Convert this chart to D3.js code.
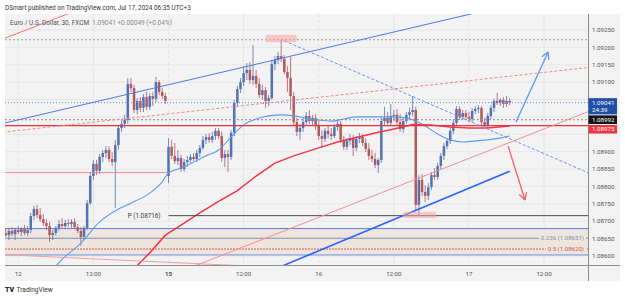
<!DOCTYPE html>
<html>
<head>
<meta charset="utf-8">
<script src="https://cdn.jsdelivr.net/npm/d3@7"></script>
<style>
  body { margin: 0; background: #fff; }
  svg { display: block; font-family: Roboto, Arial, sans-serif; }
</style>
</head>
<body>
<svg id="chart" width="625" height="298"></svg>
<script>
// EUR/USD 30m bars, Jul 11 22:00 -> Jul 17 06:30 (weekend skipped), [open, high, low, close]
const candles = [
  [1.08666,1.08678,1.08655,1.08660],[1.08660,1.08681,1.08646,1.08672],[1.08672,1.08683,1.08658,1.08663],[1.08663,1.08681,1.08646,1.08675],
  [1.08675,1.08686,1.08663,1.08669],[1.08669,1.08683,1.08658,1.08678],[1.08678,1.08689,1.08660,1.08666],[1.08666,1.08686,1.08658,1.08675],
  [1.08675,1.08724,1.08666,1.08715],[1.08715,1.08744,1.08704,1.08735],[1.08735,1.08747,1.08709,1.08718],[1.08718,1.08738,1.08698,1.08706],
  [1.08706,1.08721,1.08686,1.08695],[1.08695,1.08706,1.08675,1.08686],[1.08686,1.08698,1.08640,1.08660],[1.08660,1.08675,1.08646,1.08666],
  [1.08666,1.08686,1.08658,1.08681],[1.08681,1.08704,1.08672,1.08692],[1.08692,1.08709,1.08681,1.08686],[1.08686,1.08704,1.08678,1.08695],
  [1.08695,1.08706,1.08683,1.08692],[1.08692,1.08706,1.08681,1.08698],[1.08698,1.08709,1.08678,1.08683],[1.08683,1.08692,1.08666,1.08672],
  [1.08672,1.08683,1.08629,1.08655],[1.08655,1.08686,1.08646,1.08681],[1.08681,1.08761,1.08675,1.08752],[1.08752,1.08842,1.08747,1.08830],
  [1.08830,1.08876,1.08819,1.08865],[1.08865,1.08876,1.08833,1.08845],[1.08845,1.08893,1.08836,1.08885],[1.08885,1.08905,1.08870,1.08896],
  [1.08896,1.08916,1.08882,1.08905],[1.08905,1.08916,1.08870,1.08879],[1.08879,1.08899,1.08859,1.08870],[1.08870,1.08934,1.08738,1.08919],
  [1.08919,1.08977,1.08905,1.08968],[1.08968,1.08991,1.08957,1.08980],[1.08980,1.09006,1.08968,1.08991],[1.08991,1.09112,1.08980,1.09095],
  [1.09095,1.09112,1.09072,1.09083],[1.09083,1.09092,1.09011,1.09020],[1.09020,1.09054,1.09008,1.09046],[1.09046,1.09057,1.09014,1.09026],
  [1.09026,1.09066,1.09014,1.09057],[1.09057,1.09072,1.09020,1.09029],[1.09029,1.09069,1.09020,1.09060],[1.09060,1.09072,1.09031,1.09052],
  [1.09052,1.09115,1.09043,1.09100],[1.09100,1.09106,1.09063,1.09072],[1.09072,1.09083,1.09052,1.09060],[1.09060,1.09069,1.09037,1.09046],
  [1.08830,1.08939,1.08810,1.08914],[1.08914,1.08934,1.08879,1.08888],[1.08888,1.08925,1.08865,1.08873],[1.08873,1.08905,1.08862,1.08882],
  [1.08882,1.08891,1.08842,1.08850],[1.08850,1.08879,1.08842,1.08870],[1.08870,1.08888,1.08856,1.08876],[1.08876,1.08893,1.08868,1.08885],
  [1.08885,1.08896,1.08873,1.08879],[1.08879,1.08905,1.08870,1.08896],[1.08896,1.08919,1.08885,1.08911],[1.08911,1.08945,1.08905,1.08934],
  [1.08934,1.08951,1.08922,1.08942],[1.08942,1.08954,1.08925,1.08934],[1.08934,1.08957,1.08925,1.08945],[1.08945,1.08968,1.08934,1.08960],
  [1.08960,1.08968,1.08937,1.08945],[1.08945,1.08957,1.08870,1.08882],[1.08882,1.08905,1.08856,1.08893],[1.08893,1.08905,1.08842,1.08885],
  [1.08885,1.08962,1.08876,1.08954],[1.08954,1.09049,1.08945,1.09040],[1.09040,1.09089,1.09031,1.09080],[1.09080,1.09112,1.09069,1.09100],
  [1.09100,1.09146,1.09089,1.09126],[1.09126,1.09155,1.09106,1.09135],[1.09135,1.09158,1.09095,1.09106],[1.09106,1.09207,1.09092,1.09118],
  [1.09118,1.09135,1.09083,1.09095],[1.09095,1.09112,1.09054,1.09063],[1.09063,1.09092,1.09049,1.09077],[1.09077,1.09086,1.09026,1.09046],
  [1.09046,1.09063,1.09031,1.09054],[1.09054,1.09164,1.09049,1.09152],[1.09152,1.09175,1.09135,1.09164],[1.09164,1.09187,1.09152,1.09175],
  [1.09175,1.09224,1.09158,1.09167],[1.09167,1.09178,1.09123,1.09129],[1.09129,1.09146,1.09072,1.09112],[1.09112,1.09172,1.09020,1.09060],
  [1.09060,1.09072,1.08977,1.08985],[1.08985,1.08997,1.08945,1.08957],[1.08957,1.08980,1.08934,1.08968],[1.08968,1.08997,1.08957,1.08985],
  [1.08985,1.09014,1.08974,1.09003],[1.09003,1.09020,1.08980,1.08988],[1.08988,1.09006,1.08977,1.08997],[1.08997,1.09008,1.08962,1.08974],
  [1.08974,1.08991,1.08934,1.08945],[1.08945,1.08962,1.08911,1.08937],[1.08937,1.08968,1.08928,1.08960],[1.08960,1.08974,1.08939,1.08951],
  [1.08951,1.08968,1.08934,1.08945],[1.08945,1.08980,1.08939,1.08971],[1.08971,1.08991,1.08960,1.08980],[1.08980,1.08988,1.08925,1.08934],
  [1.08934,1.08945,1.08905,1.08914],[1.08914,1.08939,1.08905,1.08931],[1.08931,1.08951,1.08919,1.08939],[1.08939,1.08948,1.08888,1.08911],
  [1.08911,1.08945,1.08902,1.08937],[1.08937,1.08954,1.08925,1.08942],[1.08942,1.08951,1.08916,1.08925],[1.08925,1.08939,1.08899,1.08908],
  [1.08908,1.08925,1.08876,1.08888],[1.08888,1.08905,1.08870,1.08879],[1.08879,1.08896,1.08853,1.08862],[1.08862,1.08882,1.08839,1.08876],
  [1.08876,1.09000,1.08868,1.08988],[1.08988,1.09029,1.08977,1.08997],[1.08997,1.09014,1.08974,1.08983],[1.08983,1.09037,1.08974,1.09003],
  [1.09003,1.09020,1.08988,1.09006],[1.09006,1.09023,1.08977,1.08985],[1.08985,1.09008,1.08957,1.08965],[1.08965,1.08997,1.08954,1.08988],
  [1.08988,1.09014,1.08980,1.09006],[1.09006,1.09026,1.08991,1.09014],[1.09014,1.09060,1.09003,1.09020],[1.09020,1.09029,1.08732,1.08747],
  [1.08747,1.08833,1.08716,1.08819],[1.08819,1.08836,1.08773,1.08784],[1.08784,1.08804,1.08755,1.08773],[1.08773,1.08810,1.08761,1.08798],
  [1.08798,1.08842,1.08790,1.08833],[1.08833,1.08853,1.08819,1.08827],[1.08827,1.08868,1.08819,1.08859],[1.08859,1.08896,1.08850,1.08888],
  [1.08888,1.08925,1.08876,1.08916],[1.08916,1.08939,1.08908,1.08931],[1.08931,1.08968,1.08922,1.08960],[1.08960,1.08991,1.08951,1.08983],
  [1.08983,1.09031,1.08974,1.09023],[1.09023,1.09031,1.08991,1.09000],[1.09000,1.09020,1.08991,1.09011],[1.09011,1.09020,1.08991,1.09000],
  [1.09000,1.09014,1.08985,1.08994],[1.08994,1.09026,1.08985,1.09017],[1.09017,1.09031,1.09008,1.09023],[1.09023,1.09034,1.09011,1.09026],
  [1.09026,1.09031,1.08977,1.08985],[1.08985,1.08997,1.08971,1.08977],[1.08977,1.09011,1.08968,1.09003],[1.09003,1.09034,1.08994,1.09026],
  [1.09026,1.09052,1.09014,1.09046],[1.09046,1.09069,1.09034,1.09040],[1.09040,1.09054,1.09031,1.09049],[1.09049,1.09057,1.09026,1.09037],
  [1.09037,1.09060,1.09029,1.09046],[1.09046,1.09054,1.09034,1.09041]
]

// indicator lines, sampled along the bars
const blueMaBars = [14,18,24,30,36,40,46,50,52,56,60,64,68,72,76,80,84,88,92,96,100,104,108,112,116,120,124,128,131,134,138,142,146,150,154,158,161]
const blueMaValues = [1.08550,1.08590,1.08637,1.08698,1.08735,1.08752,1.08781,1.08813,1.08839,1.08853,1.08870,1.08888,1.08905,1.08942,1.08977,1.08994,1.09003,1.09006,1.09003,1.08997,1.08991,1.08988,1.08994,1.09000,1.09000,1.09000,1.09000,1.08997,1.08988,1.08974,1.08951,1.08934,1.08928,1.08931,1.08934,1.08939,1.08945]
const redMaBars = [40,46,51,56,62,68,74,80,86,92,100,106,112,118,124,130,136,142,148,154,161]
const redMaValues = [1.08554,1.08609,1.08660,1.08689,1.08724,1.08757,1.08788,1.08830,1.08867,1.08888,1.08911,1.08928,1.08941,1.08954,1.08965,1.08978,1.08977,1.08971,1.08968,1.08968,1.08974]

// axes
const priceTicks = d3.range(0, 14).map(k => 1.086 + k * 0.0005)
const timeTickBars = [4, 28, 52, 76, 100, 124, 148, 172]
const timeTickLabels = ["12", "12:00", "15", "12:00", "16", "12:00", "17", "12:00"]

// drawings: [bar, price] anchors
const channelUpper = [[-1, 1.08981], [150, 1.09299]]
const dashedDown = [[89, 1.09219], [190, 1.08824]]
const dashedUp = [[-1, 1.08956], [190, 1.09146]]
const redTopLeft = [[-1, 1.09224], [22, 1.09304]]
const redBottom = [[-1, 1.08604], [80, 1.08570]]
const pinkRising = [[60, 1.08570], [190, 1.09029]]
const blueRising = [[88, 1.08570], [161, 1.08844]]
const arrowUp = [[163, 1.08985], [173.3, 1.09187]]
const arrowDown = [[160.5, 1.08916], [165.9, 1.08761]]
const peakBox = [[83, 1.09236], [93, 1.09215]]
const lowBox = [[127, 1.08727], [137.5, 1.08709]]

const lastPrice = 1.09041
const prevClose = 1.08992
const peakLevel = 1.09222
const redLevel = 1.08975
const oldLevel = [1.08840, -1, 52]
const pivot = [1.08716, 52]
const fibLevels = [1.08679, 1.08651, 1.08620, 1.08603]
const fibNames = ["", "0.236", "0.5", ""]

const plot = { left: 5, right: 588, top: 14, bottom: 265.5 }
const svg = d3.select("#chart")

const x = d3.scaleLinear().domain([0, 161]).range([5.74, 509.67])
const y = d3.scaleLinear().domain([1.086, 1.0925]).range([256, 30])
const fmt = d3.format(".5f")

// panel
svg.append("rect").attr("x", 5).attr("y", plot.top).attr("width", 615).attr("height", 267)
  .attr("fill", "#f3f3f3")

svg.append("defs").append("clipPath").attr("id", "clip")
  .append("rect").attr("x", plot.left).attr("y", plot.top)
  .attr("width", plot.right - plot.left).attr("height", plot.bottom - plot.top)

// grid
svg.append("g").selectAll("line").data(priceTicks).join("line")
  .attr("x1", plot.left).attr("x2", plot.right)
  .attr("y1", d => y(d)).attr("y2", d => y(d))
  .attr("stroke", "#e7e7e7").attr("stroke-width", 1)
svg.append("g").selectAll("line").data(timeTickBars).join("line")
  .attr("x1", d => x(d)).attr("x2", d => x(d))
  .attr("y1", plot.top).attr("y2", plot.bottom)
  .attr("stroke", "#e4e4e4")
  .attr("stroke-dasharray", (d, i) => i % 2 === 0 ? "3,3" : null)

const g = svg.append("g").attr("clip-path", "url(#clip)")

// fib band
g.append("rect")
  .attr("x", plot.left).attr("width", plot.right - plot.left)
  .attr("y", y(fibLevels[0])).attr("height", y(fibLevels[3]) - y(fibLevels[0]))
  .attr("fill", "#eee6dc")
const fibColors = ["#5b7fe0", "#7d8fb8", "#c85a5a", "#6f8fe6"]
fibLevels.forEach((lv, k) => {
  g.append("line")
    .attr("x1", plot.left).attr("x2", plot.right)
    .attr("y1", y(lv)).attr("y2", y(lv))
    .attr("stroke", fibColors[k]).attr("stroke-width", 1)
    .attr("stroke-dasharray", k === 2 ? "2,1" : null)
})

// candles
const up = "#5272b5", down = "#b5585e"
const cg = g.append("g").selectAll("g").data(candles).join("g")
cg.append("line")
  .attr("x1", (d, i) => x(i)).attr("x2", (d, i) => x(i))
  .attr("y1", d => y(d[1])).attr("y2", d => y(d[2]))
  .attr("stroke", d => d[3] >= d[0] ? up : down).attr("stroke-opacity", 0.8)
cg.append("rect")
  .attr("x", (d, i) => x(i) - 1.25).attr("width", 2.5)
  .attr("y", d => y(Math.max(d[0], d[3])))
  .attr("height", d => Math.max(1, Math.abs(y(d[0]) - y(d[3]))))
  .attr("fill", d => d[3] >= d[0] ? up : down)

// moving averages
g.append("path")
  .datum(blueMaBars.map((b, k) => [b, blueMaValues[k]]))
  .attr("fill", "none").attr("stroke", "#5b9cf6").attr("stroke-width", 1.1)
  .attr("d", d3.line().x(d => x(d[0])).y(d => y(d[1])).curve(d3.curveMonotoneX))
g.append("path")
  .datum(redMaBars.map((b, k) => [b, redMaValues[k]]))
  .attr("fill", "none").attr("stroke", "#f23645").attr("stroke-width", 1.5)
  .attr("d", d3.line().x(d => x(d[0])).y(d => y(d[1])))

// horizontal levels
function hline(price, color, width, dash, from, to) {
  g.append("line")
    .attr("x1", from === undefined ? plot.left : x(from))
    .attr("x2", to === undefined ? plot.right : x(to))
    .attr("y1", y(price)).attr("y2", y(price))
    .attr("stroke", color).attr("stroke-width", width)
    .attr("stroke-dasharray", dash)
}
hline(peakLevel, "#9a9a9a", 1, "2,2")
hline(lastPrice, "#5b84e0", 1, "1,2")
hline(prevClose, "#8a8a8a", 1, "2,2")
hline(redLevel, "#e8333f", 1.3, null)
hline(oldLevel[0], "#f28a8a", 1, null, oldLevel[1], oldLevel[2])
hline(pivot[0], "#4a4a4a", 1, null, pivot[1])

// trend lines
function seg(pts, color, width, dash) {
  return g.append("line")
    .attr("x1", x(pts[0][0])).attr("y1", y(pts[0][1]))
    .attr("x2", x(pts[1][0])).attr("y2", y(pts[1][1]))
    .attr("stroke", color).attr("stroke-width", width)
    .attr("stroke-dasharray", dash)
}
seg(channelUpper, "#4c7be8", 1, null)
seg(dashedDown, "#6b8fe8", 1, "3,2")
seg(dashedUp, "#f08a8a", 1, "3,2")
seg(redTopLeft, "#f07878", 1, null)
seg(redBottom, "#f2a0a0", 1, null)
seg(pinkRising, "#f29090", 1, null)
seg(blueRising, "#2962ff", 1.6, null)

function arrow(pts, color) {
  seg(pts, color, 1.3, null)
  const x0 = x(pts[0][0]), y0 = y(pts[0][1]), x1 = x(pts[1][0]), y1 = y(pts[1][1])
  const a = Math.atan2(y1 - y0, x1 - x0)
  ;[-0.5, 0.5].forEach(s => {
    g.append("line").attr("x1", x1).attr("y1", y1)
      .attr("x2", x1 + 8 * Math.cos(a + Math.PI + s))
      .attr("y2", y1 + 8 * Math.sin(a + Math.PI + s))
      .attr("stroke", color).attr("stroke-width", 1.3)
  })
}
arrow(arrowUp, "#5b9cf6")
arrow(arrowDown, "#f06363")

// highlight boxes
;[peakBox, lowBox].forEach(b => {
  g.append("rect")
    .attr("x", x(b[0][0])).attr("width", x(b[1][0]) - x(b[0][0]))
    .attr("y", y(b[0][1])).attr("height", y(b[1][1]) - y(b[0][1]))
    .attr("rx", 2).attr("fill", "#f5a3a3").attr("fill-opacity", 0.55)
})

// pivot label
svg.append("text")
  .attr("x", x(pivot[1]) - 8).attr("y", y(pivot[0])).attr("dy", "0.35em")
  .attr("text-anchor", "end").attr("font-size", 6.3).attr("fill", "#333")
  .text(`P (${fmt(pivot[0])})`)

// fib labels
fibLevels.forEach((lv, k) => {
  if (!fibNames[k]) return
  const t = svg.append("text")
    .attr("x", plot.right - 4).attr("y", y(lv)).attr("dy", "0.35em")
    .attr("text-anchor", "end").attr("font-size", 6.1)
    .attr("fill", fibColors[k])
    .text(`${fibNames[k]} (${fmt(lv)})`)
  const w = t.node().getComputedTextLength()
  svg.insert("rect", () => t.node())
    .attr("x", plot.right - 6 - w).attr("width", w + 4)
    .attr("y", y(lv) - 3.5).attr("height", 7)
    .attr("fill", "#eee6dc")
})

// borders
svg.append("line").attr("x1", plot.right + 0.5).attr("x2", plot.right + 0.5)
  .attr("y1", plot.top).attr("y2", 281).attr("stroke", "#8c8c8c")
svg.append("line").attr("x1", 5).attr("x2", 620)
  .attr("y1", plot.bottom).attr("y2", plot.bottom).attr("stroke", "#8c8c8c")

// price boxes (stacked so they do not overlap)
const boxes = [
  { p: lastPrice, fill: "#1f4fa8", lines: [fmt(lastPrice), "24:39"] },
  { p: prevClose, fill: "#131313", lines: [fmt(prevClose)] },
  { p: redLevel, fill: "#f23645", lines: [fmt(redLevel)] }
]
let bottomEdge = 0
boxes.forEach(b => {
  b.h = b.lines.length * 7.6 + 1
  b.top = Math.max(y(b.p) - 4.5, bottomEdge + 1)
  bottomEdge = b.top + b.h
})

// price axis, skipping labels hidden by the boxes
const visibleTicks = priceTicks.filter(t =>
  !boxes.some(b => y(t) > b.top - 3.5 && y(t) < b.top + b.h + 3.5))
svg.append("g").selectAll("text").data(visibleTicks).join("text")
  .attr("x", 592).attr("y", d => y(d)).attr("dy", "0.35em")
  .attr("font-size", 6.2).attr("fill", "#555")
  .text(d => fmt(d))

boxes.forEach(b => {
  svg.append("rect").attr("x", plot.right + 0.5).attr("y", b.top)
    .attr("width", 28.5).attr("height", b.h).attr("fill", b.fill)
  b.lines.forEach((s, k) => {
    svg.append("text").attr("x", 592).attr("y", b.top + 4.3 + k * 7.6).attr("dy", "0.35em")
      .attr("font-size", 6.2).attr("fill", "#fff").text(s)
  })
})

// time axis
svg.append("g").selectAll("text").data(timeTickBars).join("text")
  .attr("x", d => x(d)).attr("y", 274).attr("dy", "0.35em")
  .attr("text-anchor", "middle").attr("font-size", 6.2).attr("fill", "#555")
  .attr("font-weight", (d, i) => timeTickLabels[i] === "15" ? "bold" : null)
  .text((d, i) => timeTickLabels[i])

// headers
svg.append("text").attr("x", 5).attr("y", 7.5).attr("dy", "0.35em")
  .attr("font-size", 6.4).attr("fill", "#333")
  .text("DSmart published on TradingView.com, Jul 17, 2024 06:35 UTC+3")
const legend = svg.append("text").attr("x", 10).attr("y", 22.5).attr("dy", "0.35em")
  .attr("font-size", 6.5).attr("fill", "#555")
legend.append("tspan").text("Euro / U.S. Dollar, 30, FXCM")
legend.append("tspan").attr("dx", 3).attr("fill", "#888").text(`${fmt(lastPrice)}  +0.00049 (+0.04%)`)

svg.append("text").attr("x", 5).attr("y", 289.5).attr("dy", "0.35em")
  .attr("font-size", 7).attr("font-weight", 900).attr("fill", "#222").text("TV")
svg.append("text").attr("x", 16.5).attr("y", 289.5).attr("dy", "0.35em")
  .attr("font-size", 6.6).attr("fill", "#333").text("TradingView")
</script>
</body>
</html>
